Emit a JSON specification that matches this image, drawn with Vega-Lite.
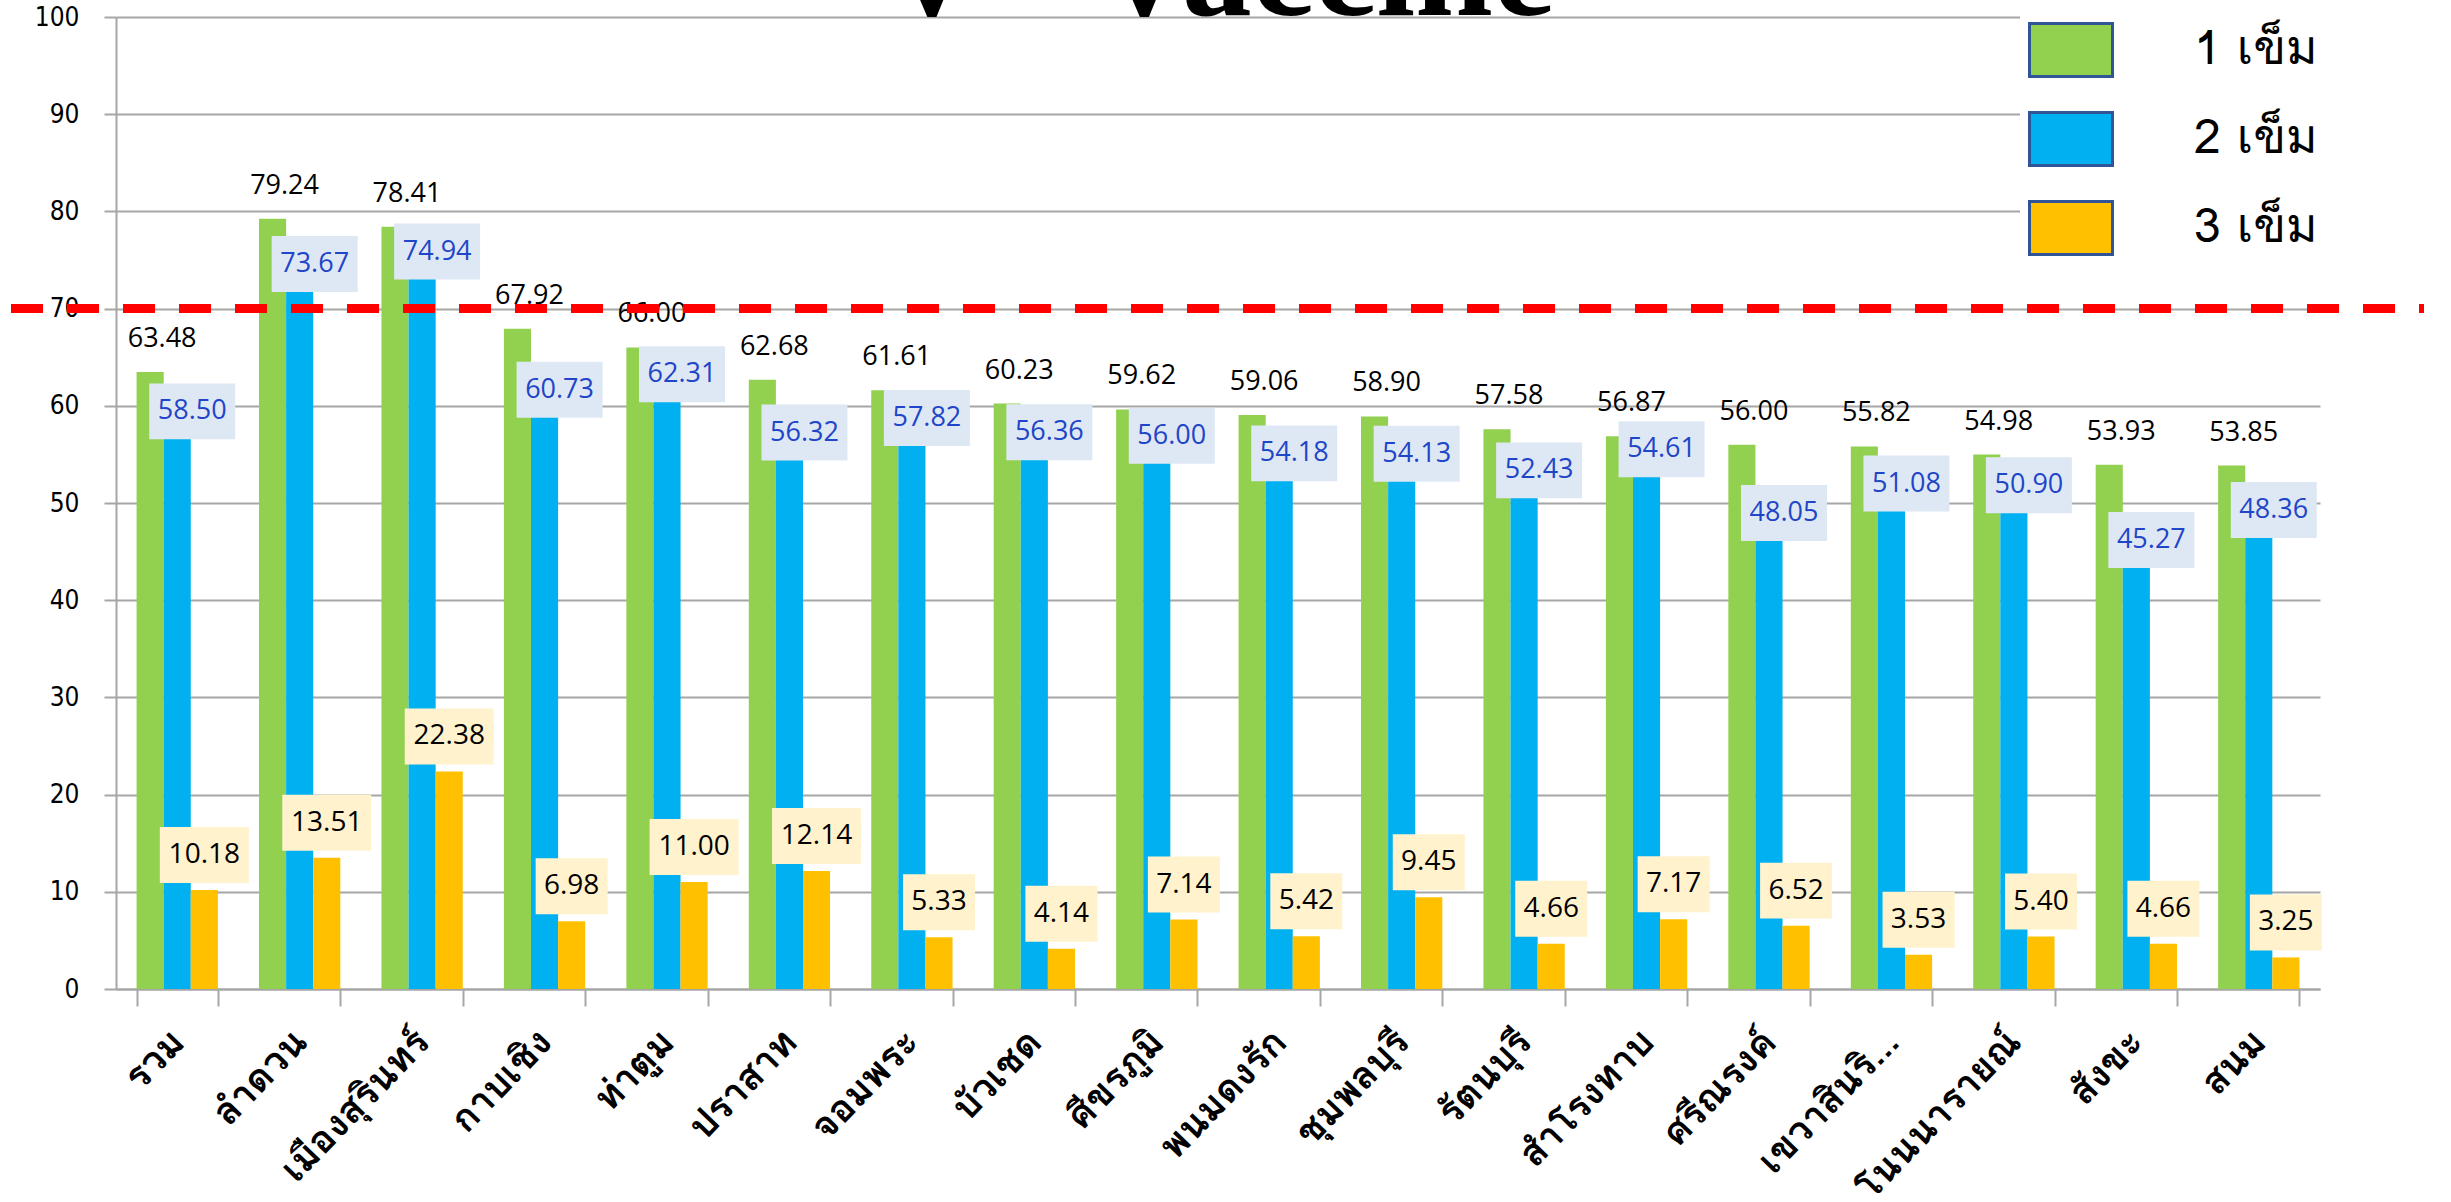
{
  "$schema": "https://vega.github.io/schema/vega-lite/v6.json",
  "autosize": {"type": "none"},
  "width": 2204,
  "height": 972,
  "padding": {"left": 116, "top": 17, "right": 131, "bottom": 213},
  "background": "white",
  "title": {"text": "V - Vaccine", "fontSize": 140, "font": "Liberation Serif", "fontWeight": "bold", "color": "black", "anchor": "middle", "offset": -45},
  "data": {"values": [
    {"name": "รวม", "series": "1 เข็ม", "v": 63.48}, {"name": "รวม", "series": "2 เข็ม", "v": 58.50}, {"name": "รวม", "series": "3 เข็ม", "v": 10.18},
    {"name": "ลำดวน", "series": "1 เข็ม", "v": 79.24}, {"name": "ลำดวน", "series": "2 เข็ม", "v": 73.67}, {"name": "ลำดวน", "series": "3 เข็ม", "v": 13.51},
    {"name": "เมืองสุรินทร์", "series": "1 เข็ม", "v": 78.41}, {"name": "เมืองสุรินทร์", "series": "2 เข็ม", "v": 74.94}, {"name": "เมืองสุรินทร์", "series": "3 เข็ม", "v": 22.38},
    {"name": "กาบเชิง", "series": "1 เข็ม", "v": 67.92}, {"name": "กาบเชิง", "series": "2 เข็ม", "v": 60.73}, {"name": "กาบเชิง", "series": "3 เข็ม", "v": 6.98},
    {"name": "ท่าตูม", "series": "1 เข็ม", "v": 66.00}, {"name": "ท่าตูม", "series": "2 เข็ม", "v": 62.31}, {"name": "ท่าตูม", "series": "3 เข็ม", "v": 11.00},
    {"name": "ปราสาท", "series": "1 เข็ม", "v": 62.68}, {"name": "ปราสาท", "series": "2 เข็ม", "v": 56.32}, {"name": "ปราสาท", "series": "3 เข็ม", "v": 12.14},
    {"name": "จอมพระ", "series": "1 เข็ม", "v": 61.61}, {"name": "จอมพระ", "series": "2 เข็ม", "v": 57.82}, {"name": "จอมพระ", "series": "3 เข็ม", "v": 5.33},
    {"name": "บัวเชด", "series": "1 เข็ม", "v": 60.23}, {"name": "บัวเชด", "series": "2 เข็ม", "v": 56.36}, {"name": "บัวเชด", "series": "3 เข็ม", "v": 4.14},
    {"name": "ศีขรภูมิ", "series": "1 เข็ม", "v": 59.62}, {"name": "ศีขรภูมิ", "series": "2 เข็ม", "v": 56.00}, {"name": "ศีขรภูมิ", "series": "3 เข็ม", "v": 7.14},
    {"name": "พนมดงรัก", "series": "1 เข็ม", "v": 59.06}, {"name": "พนมดงรัก", "series": "2 เข็ม", "v": 54.18}, {"name": "พนมดงรัก", "series": "3 เข็ม", "v": 5.42},
    {"name": "ชุมพลบุรี", "series": "1 เข็ม", "v": 58.90}, {"name": "ชุมพลบุรี", "series": "2 เข็ม", "v": 54.13}, {"name": "ชุมพลบุรี", "series": "3 เข็ม", "v": 9.45},
    {"name": "รัตนบุรี", "series": "1 เข็ม", "v": 57.58}, {"name": "รัตนบุรี", "series": "2 เข็ม", "v": 52.43}, {"name": "รัตนบุรี", "series": "3 เข็ม", "v": 4.66},
    {"name": "สำโรงทาบ", "series": "1 เข็ม", "v": 56.87}, {"name": "สำโรงทาบ", "series": "2 เข็ม", "v": 54.61}, {"name": "สำโรงทาบ", "series": "3 เข็ม", "v": 7.17},
    {"name": "ศรีณรงค์", "series": "1 เข็ม", "v": 56.00}, {"name": "ศรีณรงค์", "series": "2 เข็ม", "v": 48.05}, {"name": "ศรีณรงค์", "series": "3 เข็ม", "v": 6.52},
    {"name": "เขวาสินริ...", "series": "1 เข็ม", "v": 55.82}, {"name": "เขวาสินริ...", "series": "2 เข็ม", "v": 51.08}, {"name": "เขวาสินริ...", "series": "3 เข็ม", "v": 3.53},
    {"name": "โนนนารายณ์", "series": "1 เข็ม", "v": 54.98}, {"name": "โนนนารายณ์", "series": "2 เข็ม", "v": 50.90}, {"name": "โนนนารายณ์", "series": "3 เข็ม", "v": 5.40},
    {"name": "สังขะ", "series": "1 เข็ม", "v": 53.93}, {"name": "สังขะ", "series": "2 เข็ม", "v": 45.27}, {"name": "สังขะ", "series": "3 เข็ม", "v": 4.66},
    {"name": "สนม", "series": "1 เข็ม", "v": 53.85}, {"name": "สนม", "series": "2 เข็ม", "v": 48.36}, {"name": "สนม", "series": "3 เข็ม", "v": 3.25}
  ]},
  "config": {
    "view": {"stroke": null},
    "axis": {"domainColor": "#A6A6A6", "domainWidth": 2, "tickColor": "#A6A6A6", "tickWidth": 2, "gridColor": "#A6A6A6", "gridWidth": 2, "labelColor": "black", "title": null}
  },
  "encoding": {
    "x": {"field": "name", "type": "nominal", "sort": null,
      "scale": {"paddingInner": 0.336, "paddingOuter": 0.168},
      "axis": {"title": null, "labelAngle": -46, "labelAlign": "right", "labelBaseline": "middle", "labelFontSize": 38, "labelFontWeight": "bold", "labelFont": "Loma, Garuda, Norasi, Kinnari, Tahoma, Noto Sans Thai Looped, Noto Sans Thai, sans-serif", "labelPadding": 30, "labelOffset": 1, "tickSize": 17, "tickBand": "extent", "labelLimit": 0, "grid": false}},
    "xOffset": {"field": "series", "type": "nominal", "scale": {"domain": ["1 เข็ม", "2 เข็ม", "3 เข็ม"], "paddingInner": 0, "paddingOuter": 0}}
  },
  "layer": [
    {
      "mark": {"type": "bar"},
      "encoding": {
        "y": {"field": "v", "type": "quantitative", "scale": {"domain": [0, 100]},
          "axis": {"title": null, "values": [0,10,20,30,40,50,60,70,80,90,100], "grid": true, "tickSize": 12, "labelPadding": 25, "labelFontSize": 26, "labelFont": "DejaVu Sans Condensed", "domain": true}},
        "color": {"field": "series", "type": "nominal",
          "scale": {"domain": ["1 เข็ม", "2 เข็ม", "3 เข็ม"], "range": ["#92D050", "#00B0F0", "#FFC000"]},
          "legend": {"orient": "none", "legendX": 1904, "legendY": -18, "title": null, "padding": 8, "fillColor": "white",
            "symbolType": "M-1,-0.64L1,-0.64L1,0.64L-1,0.64Z", "symbolSize": 6889, "symbolStrokeColor": "#2F5597", "symbolStrokeWidth": 3, "symbolOpacity": 1,
            "labelFontSize": 48, "labelFont": "Loma, Garuda, Norasi, Kinnari, Tahoma, Noto Sans Thai Looped, Noto Sans Thai, sans-serif", "labelColor": "black", "labelOffset": 80, "rowPadding": 13, "labelLimit": 0}}
      }
    },
    {
      "transform": [{"filter": "datum.series === '1 เข็ม'"}],
      "mark": {"type": "text", "font": "Open Sans", "fontSize": 27, "color": "black", "dx": 12, "dy": -33, "baseline": "middle", "align": "center"},
      "encoding": {"y": {"field": "v", "type": "quantitative"}, "text": {"field": "v", "type": "quantitative", "format": ".2f"}}
    },
    {
      "transform": [{"filter": "datum.series === '2 เข็ม'"}],
      "mark": {"type": "point", "filled": true, "color": "#DEE8F4", "opacity": 1, "size": 7396, "yOffset": -9, "shape": "M-0.651,-0.651L1.349,-0.651L1.349,0.651L-0.651,0.651Z"},
      "encoding": {"y": {"field": "v", "type": "quantitative"}}
    },
    {
      "transform": [{"filter": "datum.series === '2 เข็ม'"}],
      "mark": {"type": "text", "font": "Open Sans", "fontSize": 27, "color": "#1F45C8", "dx": 15, "dy": -9, "baseline": "middle", "align": "center"},
      "encoding": {"y": {"field": "v", "type": "quantitative"}, "text": {"field": "v", "type": "quantitative", "format": ".2f"}}
    },
    {
      "transform": [{"filter": "datum.series === '3 เข็ม'"}],
      "mark": {"type": "point", "filled": true, "color": "#FFF2CC", "opacity": 1, "size": 7921, "yOffset": -35},
      "encoding": {"y": {"field": "v", "type": "quantitative"},
        "shape": {"condition": {"test": "datum.v >= 10", "value": "M-1,-0.629L1,-0.629L1,0.629L-1,0.629Z"}, "value": "M-0.809,-0.629L0.809,-0.629L0.809,0.629L-0.809,0.629Z"}}
    },
    {
      "transform": [{"filter": "datum.series === '3 เข็ม'"}],
      "mark": {"type": "text", "font": "Open Sans", "fontSize": 28, "color": "black", "dy": -35, "baseline": "middle", "align": "center"},
      "encoding": {"y": {"field": "v", "type": "quantitative"}, "text": {"field": "v", "type": "quantitative", "format": ".2f"}}
    },
    {
      "mark": {"type": "rule", "color": "#FF0000", "strokeWidth": 8, "strokeDash": [31, 25], "xOffset": -166, "x2Offset": 165},
      "encoding": {"x": {"datum": "รวม"}, "x2": {"datum": "สนม"}, "y": {"datum": 70}, "xOffset": null}
    }
  ]
}
